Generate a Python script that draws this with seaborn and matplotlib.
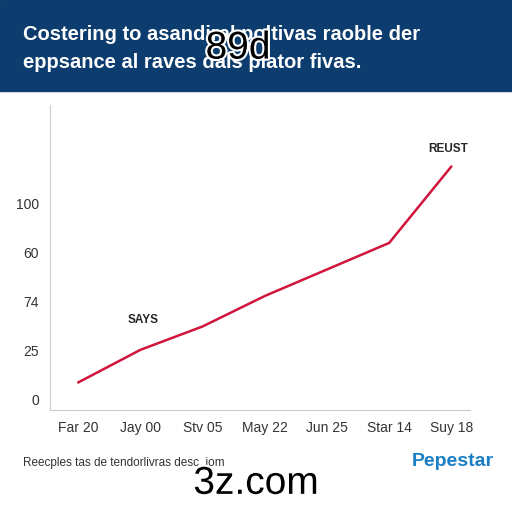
import matplotlib
matplotlib.use("Agg")
import matplotlib.pyplot as plt
import matplotlib.patheffects as pe
import seaborn as sns
import pandas as pd

x_labels = ["Far 20", "Jay 00", "Stv 05", "May 22", "Jun 25", "Star 14", "Suy 18"]
values = [8.8, 25.4, 37.3, 52.8, 66.3, 79.8, 118.7]
y_ticks = [0, 25, 50, 75, 100]
y_tick_labels = ["0", "25", "74", "60", "100"]

df = pd.DataFrame({"pos": range(len(values)), "value": values})

sns.set_style("white")
plt.rcParams["font.family"] = ["Liberation Sans", "DejaVu Sans"]
fig = plt.figure(figsize=(5.12, 5.12), dpi=100)

# header band
fig.patches.append(plt.Rectangle((0, 0.823), 1, 0.177, transform=fig.transFigure,
                                 color="#0d3d6e", zorder=0))
fig.text(0.045, 0.932, "Costering to asandiral poltivas raoble der", color="white",
         fontsize=14.5, fontweight="bold", va="center")
fig.text(0.045, 0.878, "eppsance al raves dals plator fivas.", color="white",
         fontsize=14.5, fontweight="bold", va="center")
fig.text(0.465, 0.905, "89d", fontsize=28, ha="center", va="center", color="black",
         path_effects=[pe.withStroke(linewidth=3, foreground="white")])

ax = fig.add_axes([0.098, 0.2, 0.82, 0.595])
sns.lineplot(data=df, x="pos", y="value", color="#d0143c", linewidth=1.8, ax=ax)
ax.set_xlim(-0.45, 6.3)
ax.set_ylim(-5, 150)
ax.set_xticks(range(len(x_labels)))
ax.set_xticklabels(x_labels, fontsize=10, color="#333333")
ax.set_yticks(y_ticks)
ax.set_yticklabels(y_tick_labels, fontsize=10, color="#333333")
ax.set_xlabel("")
ax.set_ylabel("")
for s in ["top", "right"]:
    ax.spines[s].set_visible(False)
for s in ["left", "bottom"]:
    ax.spines[s].set_color("#cccccc")
ax.tick_params(length=0, pad=8)
ax.text(1.05, 38.9, "SAYS", fontsize=8.5, fontweight="bold", ha="center")
ax.text(5.95, 126, "REUST", fontsize=8.5, fontweight="bold", ha="center")

# footer
fig.text(0.045, 0.09, "Reecples tas de tendorlivras desc. iom", fontsize=8.5, color="#333333")
fig.text(0.965, 0.09, "Pepestar", fontsize=14, fontweight="bold", color="#1a7fc4", ha="right")
fig.text(0.5, 0.055, "3z.com", fontsize=28, ha="center", va="center", color="black",
         path_effects=[pe.withStroke(linewidth=3, foreground="white")])

fig.savefig("out.png", dpi=100, facecolor="white")
